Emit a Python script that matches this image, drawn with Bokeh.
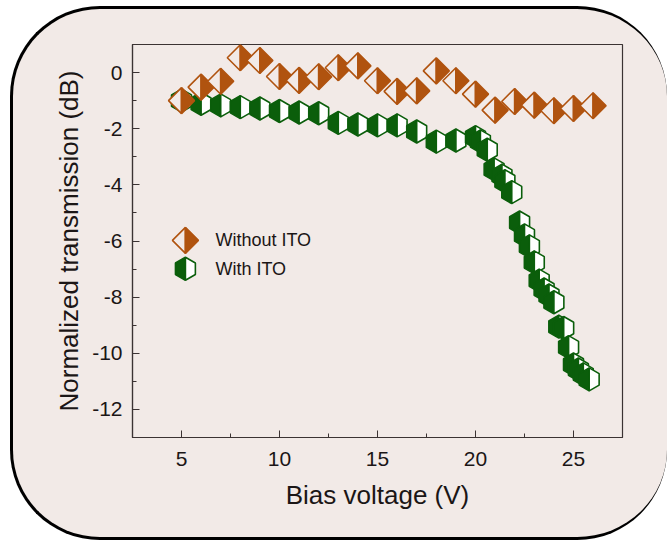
import math

from bokeh.plotting import figure
from bokeh.models import ColumnDataSource, FixedTicker
from bokeh.core.properties import value
from bokeh.embed import file_html
from bokeh.resources import INLINE

# ---- measured transmission vs. bias voltage ----
without_ito_v = [5, 6, 7, 8, 9, 10, 11, 12, 13, 14, 15, 16, 17, 18, 19, 20,
                 21, 22, 23, 24, 25, 26]
without_ito_db = [-1.0, -0.52, -0.31, 0.53, 0.43, -0.14, -0.28, -0.15, 0.17,
                  0.24, -0.29, -0.67, -0.65, 0.06, -0.29, -0.77, -1.34, -1.03,
                  -1.16, -1.36, -1.28, -1.18]

with_ito_v = [5, 6, 7, 8, 9, 10, 11, 12, 13, 14, 15, 16, 17, 18, 19, 20,
              20.25, 20.6, 20.95, 21.35, 21.5, 21.85, 22.25, 22.5, 22.75, 23.0,
              23.25, 23.5, 23.75, 24.0, 24.25, 24.5, 24.75, 25.0, 25.25, 25.5,
              25.8]
with_ito_db = [-1.0, -1.11, -1.17, -1.23, -1.28, -1.37, -1.42, -1.45, -1.79,
               -1.85, -1.88, -1.88, -2.1, -2.46, -2.42, -2.3, -2.45, -2.75,
               -3.45, -3.67, -3.87, -4.26, -5.34, -5.8, -6.19, -6.76, -7.41,
               -7.73, -7.94, -8.18, -9.05, -9.1, -9.78, -10.4, -10.58, -10.75,
               -10.93]

series_labels = ["Without ITO", "With ITO"]
x_ticks = [5, 10, 15, 20, 25]
y_ticks = [0, -2, -4, -6, -8, -10, -12]

# ---- layout / style ----
X_RANGE = (2.5, 27.5)
Y_RANGE = (-13.0, 1.0)
FRAME_W, FRAME_H = 490, 393
DX = (X_RANGE[1] - X_RANGE[0]) / FRAME_W   # data units per screen pixel
DY = (Y_RANGE[1] - Y_RANGE[0]) / FRAME_H

PANEL_BG = "#f2eae7"
ORANGE = "#b0530f"
GREEN = "#0b5e0b"
INK = "#1b1616"
AXIS = "#3b3333"
FONT = "Liberation Sans"

# legend anchor (data units)
LEGEND_MARK_X = 5.2
LEGEND_TEXT_X = 6.73
LEGEND_ROWS_Y = [-5.98, -6.99]


def diamond_halves(x, y, r=13.0):
    dx, dy = r * DX, r * DY
    ys = [y + dy, y, y - dy]
    return ([x, x - dx, x], ys), ([x, x + dx, x], ys)


def hexagon_halves(x, y, r=11.5):
    w = r * math.sqrt(3) / 2 * DX
    h, h2 = r * DY, r / 2 * DY
    ys = [y + h, y + h2, y - h2, y - h]
    return ([x, x - w, x - w, x], ys), ([x, x + w, x + w, x], ys)


def half_marker_source(xv, yv, shape, left_fill, right_fill):
    xs, ys, fills = [], [], []
    for x, y in zip(xv, yv):
        (lx, ly), (rx, ry) = shape(x, y)
        xs += [lx, rx]
        ys += [ly, ry]
        fills += [left_fill, right_fill]
    return ColumnDataSource(dict(xs=xs, ys=ys, fill=fills))


p = figure(
    frame_width=FRAME_W, frame_height=FRAME_H,
    x_range=X_RANGE, y_range=Y_RANGE,
    min_border_left=119, min_border_right=45,
    min_border_top=35, min_border_bottom=100,
    output_backend="svg", toolbar_location=None,
)
# transparent canvas inside a rounded, tinted card
p.border_fill_color = None
p.background_fill_color = PANEL_BG
p.styles = {
    "margin-left": "10px",
    "margin-top": "6px",
    "background-color": PANEL_BG,
    "border-style": "solid",
    "border-color": "black",
    "border-width": "3px 0px 3px 3px",
    "border-radius": "90px",
    "overflow": "hidden",
}
p.outline_line_color = AXIS
p.outline_line_width = 1.2
p.grid.visible = False

# axes
for ax in (p.xaxis[0], p.yaxis[0]):
    ax.axis_line_color = AXIS
    ax.axis_line_width = 1.2
    ax.major_tick_line_color = AXIS
    ax.minor_tick_line_color = AXIS
    ax.major_tick_in = 7
    ax.major_tick_out = 0
    ax.minor_tick_in = 4
    ax.minor_tick_out = 0
    ax.major_label_text_font = FONT
    ax.major_label_text_font_size = "21px"
    ax.major_label_text_color = INK
    ax.axis_label_text_font = FONT
    ax.axis_label_text_font_size = "26px"
    ax.axis_label_text_font_style = "normal"
    ax.axis_label_text_color = INK

p.xaxis.ticker = FixedTicker(ticks=x_ticks,
                             minor_ticks=[t + 2.5 for t in x_ticks[:-1]] + [2.5])
p.yaxis.ticker = FixedTicker(ticks=y_ticks,
                             minor_ticks=[t - 1 for t in y_ticks] + [1])
p.yaxis.major_label_overrides = {t: str(t) for t in y_ticks}
p.xaxis.major_label_standoff = 14
p.yaxis.major_label_standoff = 10
p.xaxis.axis_label = "Bias voltage (V)"
p.yaxis.axis_label = "Normalized transmission (dB)"
p.xaxis.axis_label_standoff = 11
p.yaxis.axis_label_standoff = 5

# data markers: green hexagons first, orange diamonds on top
hex_src = half_marker_source(with_ito_v, with_ito_db, hexagon_halves, GREEN, "white")
p.patches("xs", "ys", source=hex_src, fill_color="fill",
          line_color=GREEN, line_width=1.6)

dia_src = half_marker_source(without_ito_v, without_ito_db, diamond_halves, PANEL_BG, ORANGE)
p.patches("xs", "ys", source=dia_src, fill_color="fill",
          line_color=ORANGE, line_width=1.6)

# legend
leg_dia = half_marker_source([LEGEND_MARK_X], [LEGEND_ROWS_Y[0]], diamond_halves, PANEL_BG, ORANGE)
p.patches("xs", "ys", source=leg_dia, fill_color="fill", line_color=ORANGE, line_width=1.6)
leg_hex = half_marker_source([LEGEND_MARK_X], [LEGEND_ROWS_Y[1]], hexagon_halves, GREEN, "white")
p.patches("xs", "ys", source=leg_hex, fill_color="fill", line_color=GREEN, line_width=1.6)
p.text(x=[LEGEND_TEXT_X] * 2, y=LEGEND_ROWS_Y, text=series_labels,
       text_font=value(FONT), text_font_size="18px", text_color=INK,
       text_baseline="middle", text_align="left")

open("out.html", "w").write(file_html(p, INLINE))
